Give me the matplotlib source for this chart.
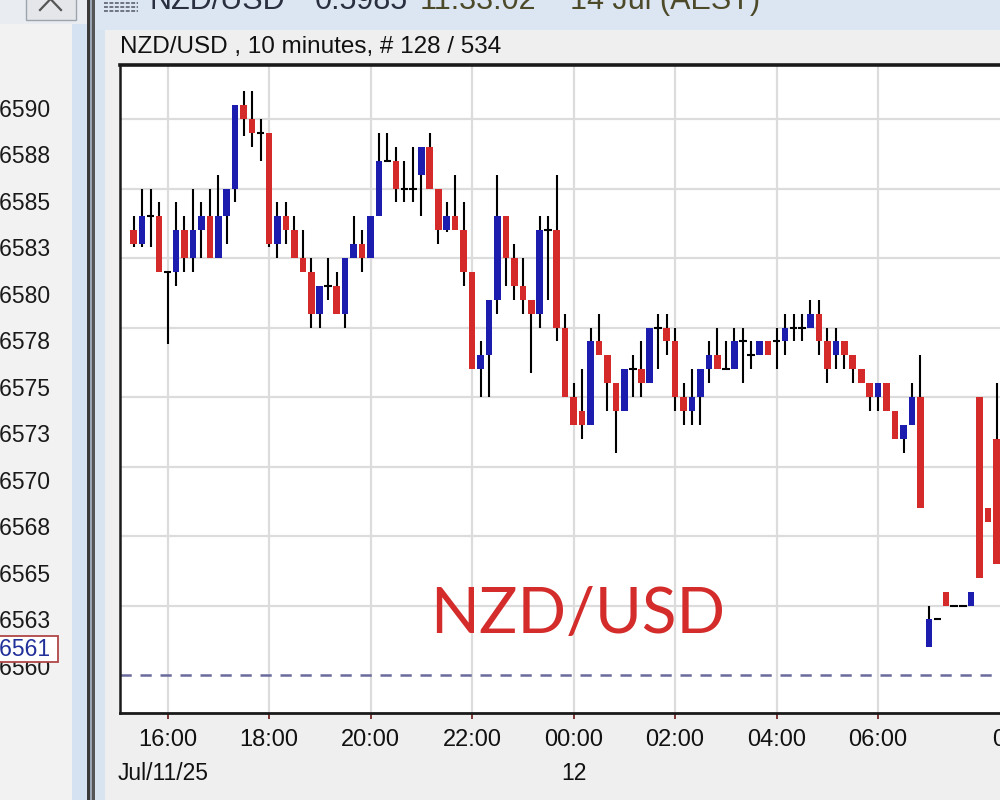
import numpy as np
import matplotlib
matplotlib.use("Agg")
import matplotlib.pyplot as plt
import matplotlib.font_manager as fm
import matplotlib.transforms as mtransforms
from matplotlib.patches import Rectangle
from matplotlib.lines import Line2D

# =============================================================================
# DATA  (10-minute NZD/USD bars, first bar = 15:20 on Jul/11)
# =============================================================================
FIRST_BAR = -4          # bar index relative to the 16:00 bar
opens = [0.6017, 0.6016, 0.6018, 0.6018, 0.6014, 0.6014, 0.6017, 0.6015, 0.6017, 0.6018,
         0.6015, 0.6018, 0.6020, 0.6026, 0.6025, 0.6024, 0.6024, 0.6016, 0.6018, 0.6017,
         0.6015, 0.6014, 0.6011, 0.6013, 0.6013, 0.6011, 0.6015, 0.6016, 0.6015, 0.6018,
         0.6022, 0.6022, 0.6020, 0.6020, 0.6021, 0.6023, 0.6020, 0.6017, 0.6018, 0.6017,
         0.6014, 0.6007, 0.6008, 0.6012, 0.6018, 0.6015, 0.6013, 0.6012, 0.6011, 0.6017,
         0.6017, 0.6010, 0.6005, 0.6004, 0.6003, 0.6009, 0.6008, 0.6006, 0.6004, 0.6007,
         0.6007, 0.6006, 0.6010, 0.6010, 0.6009, 0.6005, 0.6004, 0.6005, 0.6007, 0.6008,
         0.6007, 0.6007, 0.6009, 0.6008, 0.6008, 0.6009, 0.6009, 0.6009, 0.6010, 0.6010,
         0.6010, 0.6011, 0.6009, 0.6008, 0.6009, 0.6008, 0.6007, 0.6006, 0.6005, 0.6006,
         0.6004, 0.6002, 0.6003, 0.6005, 0.5987, 0.5989, 0.5991, 0.5990, 0.5990, 0.5990,
         0.6005, 0.5997, 0.6002]
highs = [0.6018, 0.6020, 0.6020, 0.6019, 0.6014, 0.6019, 0.6018, 0.6020, 0.6019, 0.6020,
         0.6021, 0.6020, 0.6026, 0.6027, 0.6027, 0.6025, 0.6024, 0.6019, 0.6019, 0.6018,
         0.6017, 0.6015, 0.6013, 0.6015, 0.6014, 0.6015, 0.6018, 0.6017, 0.6018, 0.6024,
         0.6024, 0.6023, 0.6022, 0.6023, 0.6023, 0.6024, 0.6020, 0.6019, 0.6021, 0.6019,
         0.6014, 0.6009, 0.6012, 0.6021, 0.6018, 0.6016, 0.6015, 0.6012, 0.6018, 0.6018,
         0.6021, 0.6011, 0.6006, 0.6007, 0.6010, 0.6011, 0.6008, 0.6006, 0.6007, 0.6008,
         0.6009, 0.6010, 0.6011, 0.6011, 0.6010, 0.6006, 0.6007, 0.6007, 0.6009, 0.6010,
         0.6009, 0.6010, 0.6010, 0.6009, 0.6009, 0.6009, 0.6010, 0.6011, 0.6011, 0.6011,
         0.6012, 0.6012, 0.6010, 0.6010, 0.6009, 0.6008, 0.6007, 0.6006, 0.6006, 0.6006,
         0.6004, 0.6003, 0.6006, 0.6008, 0.5990, 0.5989, 0.5991, 0.5990, 0.5990, 0.5991,
         0.6005, 0.5997, 0.6006]
lows = [0.60158, 0.60158, 0.60158, 0.6014, 0.60088, 0.6013, 0.6014, 0.6014, 0.6015, 0.6015,
        0.6015, 0.6016, 0.6019, 0.60238, 0.6023, 0.6022, 0.60158, 0.6015, 0.6016, 0.6015,
        0.6014, 0.6010, 0.6010, 0.6012, 0.6011, 0.6010, 0.6015, 0.6014, 0.6015, 0.6018,
        0.6022, 0.6019, 0.6019, 0.6019, 0.6018, 0.6020, 0.6016, 0.60169, 0.6017, 0.6013,
        0.6007, 0.6005, 0.6005, 0.6011, 0.6013, 0.6012, 0.6011, 0.60067, 0.6010, 0.6012,
        0.6009, 0.6005, 0.6003, 0.6002, 0.6003, 0.6008, 0.6004, 0.6001, 0.6004, 0.6005,
        0.6005, 0.6006, 0.6007, 0.6008, 0.6004, 0.6003, 0.6003, 0.6003, 0.6006, 0.6007,
        0.6007, 0.6007, 0.6006, 0.6007, 0.6008, 0.6008, 0.6007, 0.6008, 0.6009, 0.6009,
        0.6010, 0.6008, 0.6006, 0.6007, 0.6007, 0.6006, 0.6006, 0.6004, 0.6004, 0.6004,
        0.6002, 0.6001, 0.6003, 0.5997, 0.5987, 0.5989, 0.5990, 0.5990, 0.5990, 0.5990,
        0.5992, 0.5996, 0.5993]
closes = [0.6016, 0.6018, 0.6018, 0.6014, 0.6014, 0.6017, 0.6015, 0.6017, 0.6018, 0.6015,
          0.6018, 0.6020, 0.6026, 0.6025, 0.6024, 0.6024, 0.6016, 0.6018, 0.6017, 0.6015,
          0.6014, 0.6011, 0.6013, 0.6013, 0.6011, 0.6015, 0.6016, 0.6015, 0.6018, 0.6022,
          0.6022, 0.6020, 0.6020, 0.6020, 0.6023, 0.6020, 0.6017, 0.6018, 0.6017, 0.6014,
          0.6007, 0.6008, 0.6012, 0.6018, 0.6015, 0.6013, 0.6012, 0.6011, 0.6017, 0.6017,
          0.6010, 0.6005, 0.6003, 0.6003, 0.6009, 0.6008, 0.6006, 0.6004, 0.6007, 0.6007,
          0.6006, 0.6010, 0.6010, 0.6009, 0.6005, 0.6004, 0.6005, 0.6007, 0.6008, 0.6007,
          0.6007, 0.6009, 0.6009, 0.6008, 0.6009, 0.6008, 0.6009, 0.6010, 0.6010, 0.6010,
          0.6011, 0.6009, 0.6007, 0.6009, 0.6008, 0.6007, 0.6006, 0.6005, 0.6006, 0.6004,
          0.6002, 0.6003, 0.6005, 0.5997, 0.5989, 0.5989, 0.5990, 0.5990, 0.5990, 0.5991,
          0.5992, 0.5996, 0.5993]

TIME_TICKS  = [0, 12, 24, 36, 48, 60, 72, 84, 101]
TIME_LABELS = ['16:00', '18:00', '20:00', '22:00', '00:00', '02:00', '04:00', '06:00', '08:00']
GRID_LEVELS = [0.5990, 0.5995, 0.6000, 0.6005, 0.6010, 0.6015, 0.6020, 0.6025]
BID_LEVEL   = 0.5985

# price scale of the window on the left (AUD/USD, partly hidden)
LEFT_LEVELS = [0.65900, 0.65875, 0.65850, 0.65825, 0.65800, 0.65775, 0.65750,
               0.65725, 0.65700, 0.65675, 0.65650, 0.65625, 0.65600]
LEFT_LABELS = ['0.6590', '0.6588', '0.6585', '0.6583', '0.6580', '0.6578', '0.6575',
               '0.6573', '0.6570', '0.6568', '0.6565', '0.6563', '0.6560']
LEFT_CURRENT = 0.65610

# =============================================================================
# STYLE
# =============================================================================
names = {f.name for f in fm.fontManager.ttflist}
UI_FONT = 'Liberation Sans'
BIG_FONT = 'Lato' if 'Lato' in names else 'DejaVu Sans'
plt.rcParams['font.family'] = UI_FONT

UP_COL, DN_COL = '#1c1cae', '#d42a2a'
GRID_COL = '#dcdcdc'

W, H = 1000, 800
fig = plt.figure(figsize=(10, 8), dpi=100, facecolor='#efefef')


def px_rect(x0, y0, x1, y1, color, **kw):
    """Rectangle in screen pixels (origin top-left)."""
    r = Rectangle((x0 / W, 1 - y1 / H), (x1 - x0) / W, (y1 - y0) / H,
                  transform=fig.transFigure, facecolor=color, edgecolor='none',
                  zorder=-1, **kw)
    fig.add_artist(r)


def px_line(xs, ys, color, lw=1.0, **kw):
    fig.add_artist(Line2D([x / W for x in xs], [1 - y / H for y in ys],
                          transform=fig.transFigure, color=color, lw=lw, zorder=-0.5, **kw))


# window chrome
px_rect(0, 0, 72, 800, '#f2f2f2')
px_rect(72, 0, 87, 800, '#d5e2f1')
px_rect(87, 0, 90, 800, '#3a3a3a')
px_rect(90, 0, 92, 800, '#9aa6b4')
px_rect(92, 0, 95, 800, '#555555')
px_rect(95, 0, 105, 800, '#d8e4f0')
px_rect(95, 0, 1000, 30, '#dce6f2')
px_rect(0, 0, 87, 24, '#e9edf2')

# close button
fig.add_artist(Rectangle((26 / W, 1 - 20 / H), 50 / W, 30 / H, transform=fig.transFigure,
                         facecolor='#e4e6ea', edgecolor='#9ea4ac', lw=1.0, zorder=-0.8))
px_line([40, 50.5, 61], [10, -1, 10], '#555555', lw=1.6)

# grid icon beside the window title
for yy in (3, 7, 11):
    px_line([104, 138], [yy, yy], '#6d7480', lw=1.4, linestyle=(0, (2.0, 0.8)))

# window title (mostly above the visible area)
top_y = 1 - 9 / H
fig.text(150 / W, top_y, 'NZD/USD', fontsize=22, color='#2a3040', va='baseline')
fig.text(315 / W, top_y, '0.5985', fontsize=22, color='#2a3040', va='baseline')
fig.text(420 / W, top_y, '11:33:02', fontsize=22, color='#4d4a2a', va='baseline')
fig.text(570 / W, top_y, '14 Jul (AEST)', fontsize=22, color='#4d4a2a', va='baseline')

# chart header
fig.text(120 / W, 1 - 47 / H, 'NZD/USD , 10 minutes, # 128 / 534',
         fontsize=17.5, color='#111111', va='center', ha='left')

# =============================================================================
# LEFT WINDOW PRICE SCALE
# =============================================================================
lax = fig.add_axes([0, 0, 0.072, 1])
lax.set_xlim(0, 72)
px_per_unit = (668 - 110) / (LEFT_LEVELS[0] - LEFT_LEVELS[-1])
lax.set_ylim(LEFT_LEVELS[0] - (800 - 110) / px_per_unit, LEFT_LEVELS[0] + 110 / px_per_unit)
lax.axis('off')
for lv, lab in zip(LEFT_LEVELS, LEFT_LABELS):
    lax.text(50, lv, lab, ha='right', va='center', fontsize=16.5, color='#1a1a1a',
             clip_on=False)
cur_h = 26 / px_per_unit
lax.add_patch(Rectangle((-6, LEFT_CURRENT - cur_h / 2), 64, cur_h, facecolor='white',
                        edgecolor='#b04646', lw=1.3, clip_on=False, zorder=3))
lax.text(50, LEFT_CURRENT, '0.6561', ha='right', va='center', fontsize=16.5,
         color='#22309a', clip_on=False, zorder=4)

# =============================================================================
# MAIN CANDLE CHART
# =============================================================================
ax = fig.add_axes([120 / W, 1 - 713 / H, 920 / W, (713 - 65) / H])
ax.set_facecolor('white')

bar_px = 8.46
x0_px = 167.5
ax.set_xlim((120 - x0_px) / bar_px, (1040 - x0_px) / bar_px)
pip_px = 13.9
ax.set_ylim(BID_LEVEL - (713 - 675) / pip_px * 1e-4, 0.6025 + (119 - 65) / pip_px * 1e-4)

o = np.array(opens)
h = np.array(highs)
l = np.array(lows)
c = np.array(closes)
x = np.arange(len(o)) + FIRST_BAR

ax.vlines(x, l, h, color='black', lw=1.5, zorder=3)
up = c > o + 1e-9
dn = c < o - 1e-9
doji = ~(up | dn)
ax.bar(x[up], c[up] - o[up], bottom=o[up], width=0.78, color=UP_COL, zorder=4)
ax.bar(x[dn], o[dn] - c[dn], bottom=c[dn], width=0.78, color=DN_COL, zorder=4)
ax.hlines(c[doji], x[doji] - 0.45, x[doji] + 0.45, color='black', lw=1.5, zorder=4)

# grid + current bid line
ax.set_xticks(TIME_TICKS)
ax.set_xticklabels(TIME_LABELS)
ax.set_yticks(GRID_LEVELS)
ax.grid(True, color=GRID_COL, lw=1.6, zorder=0)
ax.set_axisbelow(True)
ax.axhline(BID_LEVEL, color='#6a6a9c', lw=1.8, linestyle=(0, (4.5, 3.5)), zorder=2)

ax.tick_params(axis='y', left=False, labelleft=False)
ax.tick_params(axis='x', direction='out', length=4.5, width=1.4, color='#7b3434',
               labelsize=17, pad=7, labelcolor='#111111')

for side in ('left', 'bottom', 'top'):
    ax.spines[side].set_color('#1a1a1a')
ax.spines['left'].set_linewidth(1.8)
ax.spines['bottom'].set_linewidth(2.0)
ax.spines['top'].set_linewidth(2.6)
ax.spines['right'].set_visible(False)

# watermark symbol
ax.text((578 - 120) / 920, (713 - 633) / 648, 'NZD/USD', transform=ax.transAxes,
        ha='center', va='baseline', fontsize=46, color='#d42b2b', family=BIG_FONT)

# date row under the time labels
date_tr = mtransforms.blended_transform_factory(ax.transData, fig.transFigure)
fig.text(118 / W, 1 - 773 / H, 'Jul/11/25', fontsize=16.5, color='#111111',
         ha='left', va='center')
ax.text(48, 1 - 773 / H, '12', transform=date_tr, fontsize=16.5, color='#111111',
        ha='center', va='center', clip_on=False)

fig.savefig('out.png', dpi=100, facecolor=fig.get_facecolor())
